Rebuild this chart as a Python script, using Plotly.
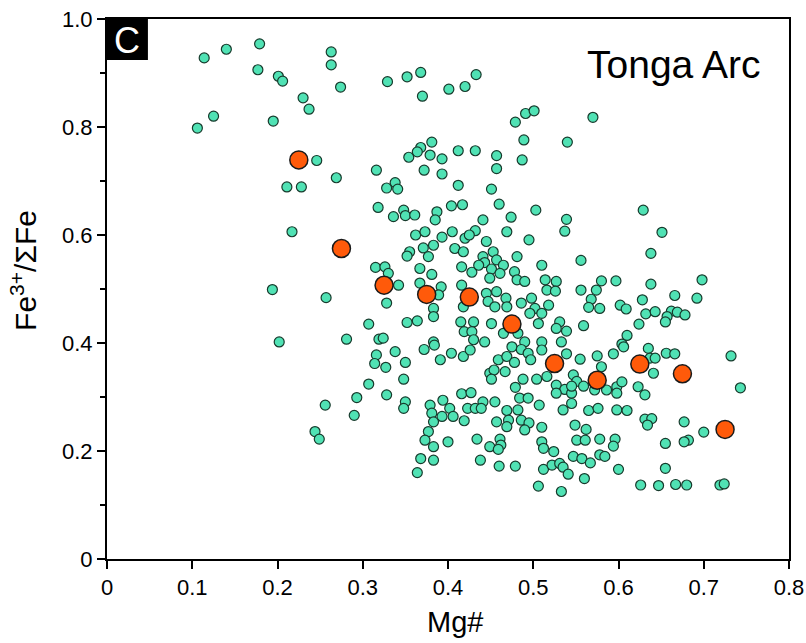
import plotly.graph_objects as go

# Individual samples (teal)
teal_x = [
0.114,0.140,0.179,0.263,0.263,0.177,0.201,0.206,0.274,0.230,0.237,0.125,0.106,0.195,0.246,0.316,0.269,0.211,0.228,
0.329,0.352,0.368,0.433,0.401,0.420,0.370,0.479,0.491,0.501,0.489,0.540,0.487,0.457,0.457,0.432,0.412,0.381,0.368,0.364,0.379,0.393,0.354,0.372,0.393,0.338,0.328,0.412,0.451,0.341,
0.570,
0.318,0.217,0.315,0.194,0.257,0.307,0.202,0.281,0.319,
0.316,0.314,0.307,0.293,0.256,0.290,0.244,0.249,
0.336,0.348,0.350,0.361,0.387,0.385,0.404,0.417,0.441,0.460,0.474,0.503,0.539,0.537,0.469,0.495,0.362,0.373,0.393,0.405,0.420,0.432,0.425,0.383,0.371,0.355,0.352,0.377,0.408,0.418,0.445,0.441,0.453,0.443,0.457,0.465,0.481,0.510,0.326,0.367,0.381,0.416,0.428,0.436,0.451,0.449,0.461,0.478,0.481,0.490,0.514,0.527,0.516,0.526,0.330,0.342,0.367,0.392,0.389,0.416,0.445,0.457,0.468,0.447,0.455,0.469,0.486,0.498,0.502,0.518,0.496,0.510,0.531,0.527,0.539,0.506,0.328,0.383,0.383,0.418,0.352,0.364,0.415,0.430,0.451,0.419,0.428,0.465,0.482,0.324,0.383,0.430,0.443,0.490,0.510,0.533,
0.629,0.651,0.638,0.556,0.698,0.580,0.597,0.638,0.556,0.574,0.568,0.666,0.692,0.628,0.565,0.578,0.602,0.609,0.632,0.643,0.662,0.669,0.678,0.657,0.655,0.624,0.559,0.610,0.604,
0.338,0.327,0.350,0.348,0.372,0.384,0.391,0.404,0.418,0.426,0.459,0.469,0.478,0.475,0.486,0.494,0.497,0.510,0.539,0.449,0.454,0.467,0.451,0.488,0.479,0.504,0.516,0.527,0.537,0.545,0.527,0.484,0.494,0.328,0.350,0.348,0.379,0.394,0.416,0.427,0.381,0.393,0.402,0.406,0.383,0.419,0.423,0.432,0.441,0.439,0.455,0.469,0.482,0.507,0.457,0.471,0.469,0.486,0.495,0.490,0.510,0.535,0.545,0.377,0.373,0.400,0.383,0.434,0.461,0.462,0.449,0.459,0.510,0.512,0.524,0.547,0.368,0.383,0.438,0.460,0.479,0.364,0.512,0.522,0.531,0.535,0.541,0.506,0.533,
0.555,0.575,0.594,0.606,0.635,0.637,0.643,0.656,0.666,0.732,0.580,0.641,0.547,0.551,0.545,0.559,0.586,0.598,0.604,0.598,0.623,0.631,0.572,0.565,0.576,0.598,0.610,0.743,0.549,0.562,0.631,0.639,0.634,0.677,0.700,0.551,0.561,0.578,0.596,0.594,0.655,0.682,0.677,0.557,0.567,0.578,0.584,0.600,0.560,0.655,0.626,0.647,0.667,0.680,0.719,0.724,
]
teal_y = [
0.928,0.944,0.954,0.939,0.915,0.906,0.894,0.885,0.874,0.854,0.833,0.820,0.798,0.811,0.738,0.720,0.706,0.689,0.689,
0.884,0.893,0.901,0.897,0.870,0.875,0.857,0.809,0.825,0.830,0.776,0.772,0.739,0.747,0.723,0.756,0.756,0.772,0.762,0.754,0.748,0.741,0.744,0.720,0.713,0.697,0.687,0.692,0.685,0.685,
0.818,
0.651,0.606,0.540,0.499,0.484,0.435,0.402,0.407,0.407,
0.378,0.362,0.324,0.299,0.285,0.266,0.236,0.222,
0.634,0.646,0.636,0.637,0.643,0.628,0.654,0.656,0.628,0.657,0.633,0.646,0.629,0.607,0.606,0.591,0.600,0.606,0.596,0.606,0.594,0.608,0.600,0.581,0.576,0.569,0.561,0.560,0.575,0.569,0.588,0.560,0.569,0.549,0.554,0.544,0.560,0.544,0.541,0.538,0.527,0.541,0.531,0.544,0.537,0.520,0.529,0.532,0.517,0.514,0.517,0.514,0.498,0.496,0.529,0.507,0.511,0.504,0.489,0.507,0.492,0.495,0.483,0.477,0.467,0.467,0.474,0.483,0.464,0.470,0.455,0.455,0.439,0.427,0.422,0.436,0.474,0.464,0.449,0.467,0.438,0.441,0.439,0.439,0.436,0.421,0.421,0.418,0.418,0.409,0.402,0.406,0.402,0.402,0.402,0.402,
0.646,0.605,0.566,0.553,0.517,0.515,0.515,0.509,0.498,0.498,0.481,0.488,0.483,0.480,0.466,0.464,0.470,0.463,0.454,0.458,0.459,0.457,0.452,0.449,0.439,0.435,0.432,0.414,0.398,
0.384,0.355,0.364,0.333,0.388,0.396,0.369,0.381,0.375,0.387,0.369,0.375,0.364,0.393,0.388,0.381,0.369,0.387,0.380,0.344,0.350,0.347,0.333,0.333,0.318,0.333,0.338,0.322,0.314,0.307,0.307,0.298,0.298,0.304,0.291,0.279,0.285,0.294,0.306,0.308,0.270,0.264,0.279,0.264,0.254,0.256,0.279,0.279,0.291,0.279,0.291,0.275,0.276,0.285,0.254,0.257,0.245,0.257,0.252,0.239,0.244,0.276,0.288,0.236,0.220,0.217,0.208,0.222,0.222,0.211,0.208,0.203,0.217,0.205,0.199,0.190,0.186,0.183,0.183,0.172,0.172,0.160,0.166,0.174,0.177,0.170,0.157,0.135,0.125,
0.370,0.376,0.380,0.393,0.390,0.372,0.372,0.381,0.380,0.376,0.356,0.344,0.341,0.329,0.320,0.320,0.313,0.319,0.328,0.307,0.319,0.304,0.313,0.275,0.279,0.276,0.275,0.317,0.248,0.240,0.259,0.260,0.248,0.254,0.235,0.220,0.220,0.222,0.222,0.209,0.214,0.220,0.217,0.186,0.178,0.193,0.190,0.166,0.149,0.168,0.137,0.136,0.138,0.137,0.137,0.139,
]

# Binned averages (orange)
avg_x = [0.225, 0.275, 0.325, 0.375, 0.425, 0.475, 0.525, 0.575, 0.625, 0.675, 0.725]
avg_y = [0.739, 0.575, 0.507, 0.490, 0.485, 0.435, 0.362, 0.331, 0.361, 0.343, 0.240]

x_ticks = [0, 0.1, 0.2, 0.3, 0.4, 0.5, 0.6, 0.7, 0.8]
x_ticktext = ["0", "0.1", "0.2", "0.3", "0.4", "0.5", "0.6", "0.7", "0.8"]
y_ticks = [0, 0.2, 0.4, 0.6, 0.8, 1.0]
y_ticktext = ["0", "0.2", "0.4", "0.6", "0.8", "1.0"]

FONT = "Liberation Sans, Arial, sans-serif"

fig = go.Figure()
fig.add_trace(go.Scatter(
    x=teal_x, y=teal_y, mode="markers",
    marker=dict(size=10, color="#50e2b4", line=dict(color="#173a2c", width=1.2)),
    hoverinfo="x+y", showlegend=False))
fig.add_trace(go.Scatter(
    x=avg_x, y=avg_y, mode="markers",
    marker=dict(size=18, color="#ff5a0a", line=dict(color="#1a1a1a", width=1.5)),
    hoverinfo="x+y", showlegend=False))

axis_common = dict(
    showline=True, linecolor="black", linewidth=2, mirror=True,
    ticks="outside", ticklen=8, tickwidth=2, tickcolor="black",
    showgrid=False, zeroline=False, automargin=False,
    tickfont=dict(family=FONT, size=22, color="black"),
)
fig.update_xaxes(range=[0, 0.8], tickvals=x_ticks, ticktext=x_ticktext, **axis_common)
fig.update_yaxes(range=[0, 1.0], tickvals=y_ticks, ticktext=y_ticktext,
                 minor=dict(ticks="outside", ticklen=5, tickwidth=2, tickcolor="black", dtick=0.1, showgrid=False),
                 **axis_common)

# Axis titles
fig.add_annotation(xref="paper", yref="paper", x=0.510, y=-0.117, text="Mg#", showarrow=False,
                   font=dict(family=FONT, size=29, color="black"), xanchor="center", yanchor="middle")
fig.add_annotation(xref="paper", yref="paper", x=-0.122, y=0.535, text="Fe<sup>3+</sup>/ΣFe", showarrow=False,
                   textangle=-90, font=dict(family=FONT, size=30, color="black"), xanchor="center", yanchor="middle")

# Panel label and title
fig.add_shape(type="rect", xref="paper", yref="paper", x0=0, x1=0.060, y0=0.924, y1=1.0,
              fillcolor="black", line=dict(color="black", width=0))
fig.add_annotation(xref="paper", yref="paper", x=0.030, y=0.960, text="C", showarrow=False,
                   font=dict(family=FONT, size=36, color="white"), xanchor="center", yanchor="middle")
fig.add_annotation(xref="paper", yref="paper", x=0.960, y=0.915, text="Tonga Arc", showarrow=False,
                   font=dict(family=FONT, size=39, color="black"), xanchor="right", yanchor="middle")

fig.update_layout(
    width=806, height=643,
    margin=dict(l=107, r=17, t=19, b=84),
    paper_bgcolor="white", plot_bgcolor="white",
)
fig.write_html("out.html")
